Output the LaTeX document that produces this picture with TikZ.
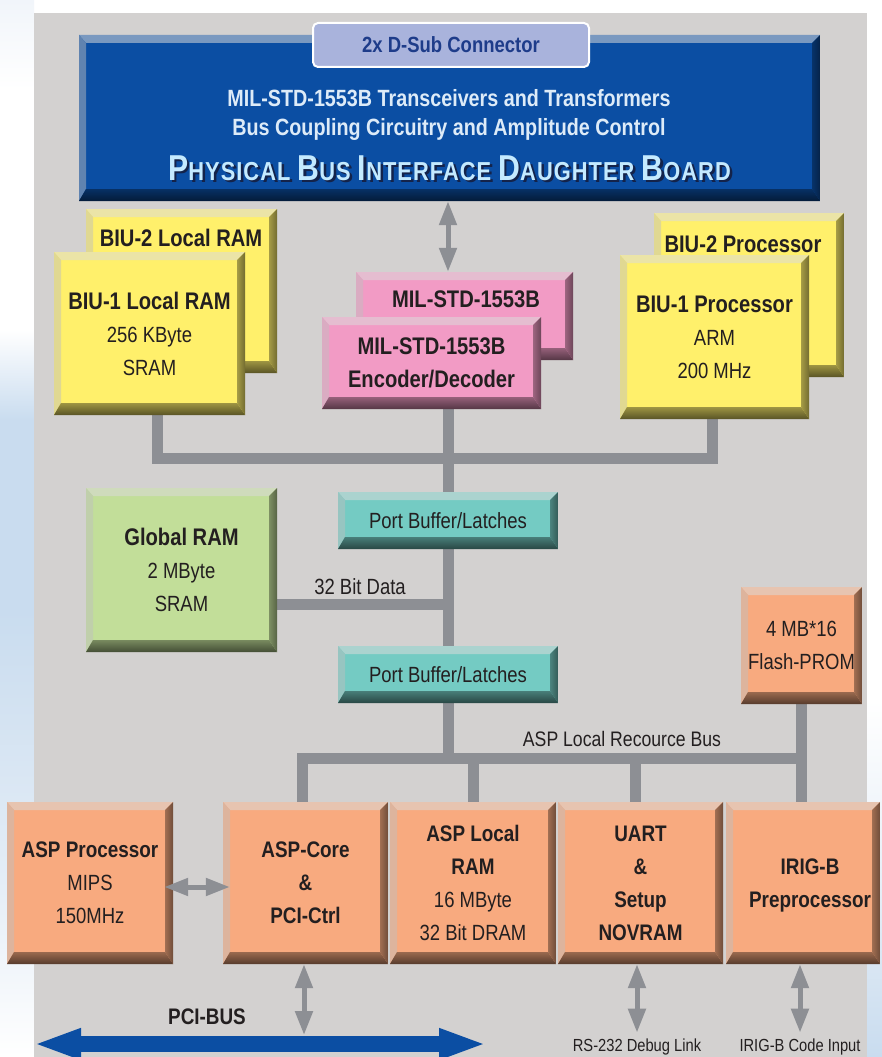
\documentclass[tikz,border=0pt]{standalone}
\usepackage{fontspec}
\setmainfont{Liberation Sans}[FakeStretch=0.84]
\usetikzlibrary{arrows.meta}
\pgfdeclarelayer{back}\pgfdeclarelayer{bg}
\pgfsetlayers{back,bg,main}
\definecolor{panel}{HTML}{D3D1D0}
\definecolor{lb1}{HTML}{C9DCEF}
\definecolor{lb2}{HTML}{E4EDF6}
\definecolor{lb3}{HTML}{F1F5FA}
\definecolor{blueB}{HTML}{0B4EA3}
\definecolor{dsubF}{HTML}{A9B3DC}
\definecolor{dsubT}{HTML}{1E3C8A}
\definecolor{bluetext}{HTML}{DDEBF8}
\definecolor{titleC}{HTML}{C4EAFF}
\definecolor{titleS}{HTML}{14234A}
\definecolor{ylw}{HTML}{FFF06B}
\definecolor{pnk}{HTML}{F29BC5}
\definecolor{grn}{HTML}{C2DE99}
\definecolor{teal}{HTML}{74CBC3}
\definecolor{orng}{HTML}{F8AA7F}
\definecolor{conn}{HTML}{8D8F94}
\definecolor{txtc}{HTML}{231F20}
\newcommand\fb[1]{{\fontsize{24}{33}\selectfont\bfseries #1}}
\newcommand\fbb[1]{{\fontsize{22.5}{33}\selectfont\bfseries #1}}
\newcommand\BigC[1]{{\fontsize{36}{36}\selectfont #1}}
\newcommand\ttltext{{\fontsize{26}{30}\selectfont\bfseries\addfontfeatures{LetterSpace=4}\BigC{P}HYSICAL \BigC{B}US \BigC{I}NTERFACE \BigC{D}AUGHTER \BigC{B}OARD}}
\tikzset{
  bev/.style={draw=none, fill=#1, inner sep=0pt, path picture={
    \path (path picture bounding box.north west) coordinate (ppnw)
          (path picture bounding box.north east) coordinate (ppne)
          (path picture bounding box.south west) coordinate (ppsw)
          (path picture bounding box.south east) coordinate (ppse);
    \fill[#1!50!white!92!black] (ppnw) -- (ppne) -- ([shift={(-8pt,-8pt)}]ppne) -- ([shift={(7pt,-8pt)}]ppnw) -- cycle;
    \fill[#1!60!white!88!black] (ppnw) -- ([shift={(7pt,-8pt)}]ppnw) -- ([shift={(7pt,12pt)}]ppsw) -- (ppsw) -- cycle;
    \shade[left color=#1!65!black, right color=#1!45!black] (ppne) -- (ppse) -- ([shift={(-8pt,12pt)}]ppse) -- ([shift={(-8pt,-8pt)}]ppne) -- cycle;
    \shade[top color=#1!62!black, bottom color=#1!35!black] (ppsw) -- (ppse) -- ([shift={(-8pt,12pt)}]ppse) -- ([shift={(7pt,12pt)}]ppsw) -- cycle;
  }},
  tx/.style={text=txtc, align=center, inner sep=0pt, font=\fontsize{22}{33}\selectfont},
  bus/.style={draw=conn, line width=11pt},
  garrow/.style={draw=conn, line width=5pt, {Triangle[width=17pt,length=24pt]}-{Triangle[width=17pt,length=24pt]}},
  pcibus/.style={draw=blueB, line width=16pt, {Triangle[width=28pt,length=48pt]}-{Triangle[width=28pt,length=48pt]}},
}
\begin{document}
\begin{tikzpicture}[x=1pt,y=-1pt]
\useasboundingbox (0,0) rectangle (882,1057);
\begin{pgfonlayer}{back}
  \fill[white] (0,0) rectangle (882,1057);
  \shade[top color=lb3, bottom color=white] (0,0) rectangle (34,90);
  \shade[top color=white, bottom color=lb1] (0,330) rectangle (34,420);
  \fill[lb1] (0,420) rectangle (34,610);
  \shade[top color=lb1, bottom color=lb2] (0,610) rectangle (34,880);
  \shade[top color=lb2, bottom color=white] (0,880) rectangle (34,1057);
  \shade[top color=white, bottom color=lb2] (867,700) rectangle (882,900);
  \shade[top color=lb2, bottom color=lb1] (867,900) rectangle (882,1057);
  \fill[panel] (34,13) rectangle (867,1057);
\end{pgfonlayer}

% ---------- boxes ----------
\node[bev=blueB, minimum width=741pt, minimum height=166pt] (phys) at (449.5,118) {};
\node[draw=white, line width=2pt, rounded corners=5pt, fill=dsubF, minimum width=276pt, minimum height=44pt, text=dsubT, font=\fontsize{22}{24}\selectfont\bfseries] (dsub) at (451,45) {2x D-Sub Connector};
\node[text=bluetext, inner sep=0pt, font=\fontsize{23.5}{26}\selectfont\bfseries] (l1) at (449,98) {MIL-STD-1553B Transceivers and Transformers};
\node[text=bluetext, inner sep=0pt, font=\fontsize{23.5}{26}\selectfont\bfseries] (l2) at (449,129) {Bus Coupling Circuitry and Amplitude Control};
\node[inner sep=0pt] (title) at (449.5,169) {\makebox[0pt][l]{\hspace*{2.5pt}\raisebox{-2.5pt}{\textcolor{titleS}{\ttltext}}}\textcolor{titleC}{\ttltext}};

\node[bev=ylw, minimum width=191pt, minimum height=164pt] (biu2ram) at (181.5,291) {};
\node[tx] (biu2ramT) at (181,238) {\fb{BIU-2 Local RAM}};
\node[bev=ylw, minimum width=191pt, minimum height=163pt, tx] (biu1ram) at (149.5,333.5) {\fb{BIU-1 Local RAM}\\256 KByte\\SRAM};

\node[bev=pnk, minimum width=217pt, minimum height=88pt] (milback) at (464.5,316) {};
\node[tx] (milbackT) at (466,299) {\fb{MIL-STD-1553B}};
\node[bev=pnk, minimum width=219pt, minimum height=92pt, tx] (milfront) at (431.5,363) {\fb{MIL-STD-1553B}\\\fb{Encoder/Decoder}};

\node[bev=ylw, minimum width=190pt, minimum height=164pt] (biu2proc) at (749,295) {};
\node[tx] (biu2procT) at (743,244) {\fb{BIU-2 Processor}};
\node[bev=ylw, minimum width=189pt, minimum height=164pt, tx] (biu1proc) at (714.5,337) {\fb{BIU-1 Processor}\\ARM\\200 MHz};

\node[bev=teal, minimum width=220pt, minimum height=57pt, tx] (portbuf1) at (448,520.5) {Port Buffer/Latches};
\node[bev=grn, minimum width=191pt, minimum height=164pt, tx] (globalram) at (181.5,570) {\fb{Global RAM}\\2 MByte\\SRAM};
\node[tx] (datalbl) at (360,587) {32 Bit Data};
\node[bev=teal, minimum width=220pt, minimum height=57pt, tx] (portbuf2) at (448,674.5) {Port Buffer/Latches};
\node[bev=orng, minimum width=121pt, minimum height=117pt, tx] (flash) at (801.5,645.5) {4 MB*16\\Flash-PROM};
\node[tx, font=\fontsize{21}{24}\selectfont] (asplbl) at (622,739) {ASP Local Recource Bus};

\node[bev=orng, minimum width=166pt, minimum height=162pt, tx] (aspproc) at (90,883) {\fbb{ASP Processor}\\MIPS\\150MHz};
\node[bev=orng, minimum width=165pt, minimum height=162pt, tx] (aspcore) at (305.5,883) {\fbb{ASP-Core}\\\fbb{\&}\\\fbb{PCI-Ctrl}};
\node[bev=orng, minimum width=166pt, minimum height=162pt, tx] (asplocal) at (473,883) {\fbb{ASP Local}\\\fbb{RAM}\\16 MByte\\32 Bit DRAM};
\node[bev=orng, minimum width=165pt, minimum height=162pt, tx] (uart) at (640.5,883) {\fbb{UART}\\\fbb{\&}\\\fbb{Setup}\\\fbb{NOVRAM}};
\node[bev=orng, minimum width=154pt, minimum height=162pt] (irig) at (803,883) {};
\node[tx] (irigT) at (810,885) {\fbb{IRIG-B}\\\fbb{Preprocessor}};

\node[tx, font=\fontsize{22.5}{26}\selectfont\bfseries] (pcilbl) at (207,1017) {PCI-BUS};
\node[tx, font=\fontsize{17.5}{20}\selectfont] (rs232) at (637,1047) {RS-232 Debug Link};
\node[tx, font=\fontsize{17.5}{20}\selectfont] (irigin) at (800,1047) {IRIG-B Code Input};

% ---------- coordinates ----------
\coordinate (tb) at (448,458);
\coordinate (dataj) at (448,604);
\coordinate (aspj) at (448,758);
\coordinate (biu1c) at ([xshift=7.5pt]biu1ram.south);
\coordinate (biu1pc) at ([xshift=-2.5pt]biu1proc.south);
\coordinate (corec) at ([xshift=-3.5pt]aspcore.north);
\coordinate (uartc) at ([xshift=-5.5pt]uart.north);
\coordinate (pciL) at (33,1044);
\coordinate (pciR) at (487,1044);
\coordinate (pcitop) at (304,1035);

% ---------- connectors ----------
\begin{pgfonlayer}{bg}
  \draw[bus] (biu1c) |- (tb) -| (biu1pc);
  \draw[bus] (milfront.south -| portbuf1.north) -- (portbuf1.north);
  \draw[bus] (portbuf1.south) -- (portbuf2.north);
  \draw[bus] (globalram.east |- dataj) -- (dataj);
  \draw[bus] (portbuf2.south) -- (aspj);
  \draw[bus] (corec) |- (aspj) -| (flash.south);
  \draw[bus] (asplocal.north |- aspj) -- (asplocal.north);
  \draw[bus] (uartc |- aspj) -- (uartc);
  \draw[bus] (flash.south |- aspj) -- (irig.north -| flash.south);
\end{pgfonlayer}
\draw[garrow] (phys.south -| portbuf1.north) -- (milback.north -| portbuf1.north);
\draw[garrow] ([shift={(-9pt,-4pt)}]aspproc.east) -- ([shift={(7pt,-4pt)}]aspcore.west);
\draw[pcibus] (pciL) -- (pciR);
\draw[garrow] ([xshift=-1.5pt]aspcore.south) -- (pcitop);
\draw[garrow] (uart.south -| rs232.north) -- ([yshift=6pt]rs232.north);
\draw[garrow] (irig.south -| irigin.north) -- ([yshift=6pt]irigin.north);
\end{tikzpicture}
\end{document}
